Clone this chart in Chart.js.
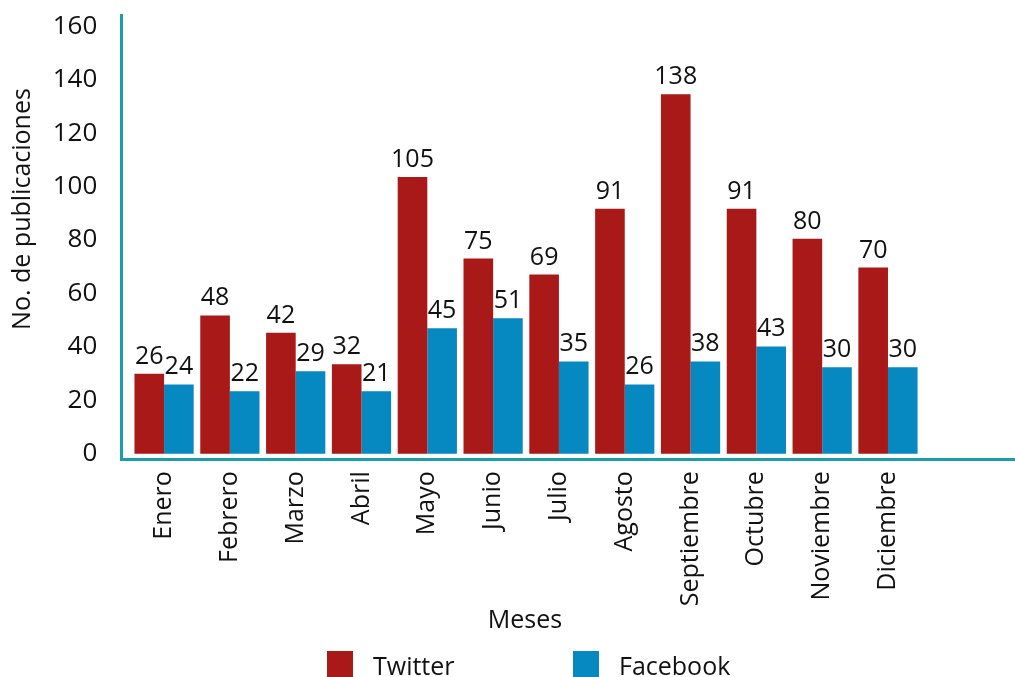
<!DOCTYPE html>
<html>
<head>
<meta charset="utf-8">
<script src="https://cdn.jsdelivr.net/npm/chart.js@4.4.1/dist/chart.umd.min.js"></script>
<style>
  html,body{margin:0;padding:0;background:#fff}
  #wrap{width:1015px;height:677px;position:relative}
</style>
</head>
<body>
<div id="wrap"><canvas id="chart"></canvas></div>
<script>
const MONTHS = ['Enero','Febrero','Marzo','Abril','Mayo','Junio','Julio','Agosto','Septiembre','Octubre','Noviembre','Diciembre'];
// printed numbers above the bars
const TWITTER_LABEL = [26,48,42,32,105,75,69,91,138,91,80,70];
const FACEBOOK_LABEL = [24,22,29,21,45,51,35,26,38,43,30,30];
// bar heights (the drawing does not follow its own labels exactly)
const TWITTER_BAR = [30,51.8,45.3,33.5,103.6,73.1,67.1,91.7,134.6,91.7,80.5,69.7];
const FACEBOOK_BAR = [26,23.4,30.9,23.4,47,50.7,34.6,26,34.6,40.2,32.4,32.4];
const Y_TICKS = [0,20,40,60,80,100,120,140,160];

const FONT = '"Open Sans", "Noto Sans", sans-serif';
const INK = '#111';
const TEAL = '#1a9eac';
const RED = '#a91917';
const BLUE = '#0688c1';

const labelPlugin = {
  id:'extras',
  afterDatasetsDraw(chart){
    const ctx = chart.ctx;
    ctx.save();
    ctx.font = '25px ' + FONT;
    ctx.fillStyle = INK;
    ctx.textAlign = 'center';
    ctx.textBaseline = 'alphabetic';
    chart.data.datasets.forEach((ds,i)=>{
      chart.getDatasetMeta(i).data.forEach((bar,j)=>{
        ctx.fillText(String(ds.printed[j]), bar.x, bar.y - 10);
      });
    });
    ctx.restore();
  },
  afterDraw(chart){
    const ctx = chart.ctx;
    ctx.save();
    ctx.font = '25px ' + FONT;
    ctx.fillStyle = INK;
    // y title
    ctx.save();
    ctx.translate(30, 209);
    ctx.rotate(-Math.PI/2);
    ctx.textAlign = 'center';
    ctx.textBaseline = 'alphabetic';
    ctx.fillText('No. de publicaciones', 0, 0);
    ctx.restore();
    // x title
    ctx.textAlign = 'center';
    ctx.fillText('Meses', 525, 628);
    // legend
    const items = [{x:327, tx:373}, {x:573, tx:619}];
    chart.data.datasets.forEach((ds,i)=>{
      ctx.fillStyle = ds.backgroundColor;
      ctx.fillRect(items[i].x, 651, 26, 26);
      ctx.fillStyle = INK;
      ctx.textAlign = 'left';
      ctx.fillText(ds.label, items[i].tx, 675);
    });
    ctx.restore();
  }
};

new Chart(document.getElementById('chart'), {
  type:'bar',
  data:{
    datasets:[
      {label:'Twitter', data:TWITTER_BAR.map((v,i)=>({x:i+1,y:v})), printed:TWITTER_LABEL, backgroundColor:RED},
      {label:'Facebook', data:FACEBOOK_BAR.map((v,i)=>({x:i+1,y:v})), printed:FACEBOOK_LABEL, backgroundColor:BLUE},
    ]
  },
  options:{
    responsive:true, maintainAspectRatio:false, animation:false,
    categoryPercentage:0.9, barPercentage:1,
    layout:{padding:{top:14.3,left:0,right:0,bottom:0}},
    plugins:{legend:{display:false}, tooltip:{enabled:false}},
    scales:{
      x:{
        type:'linear', offset:false, min:0.35, max:13.93,
        grid:{display:false, drawTicks:true, tickLength:12},
        border:{display:true, color:TEAL, width:3},
        afterBuildTicks(s){ s.ticks = MONTHS.map((m,i)=>({value:i+1})); },
        afterFit(s){ s.height = 677 - 459.2; },
        ticks:{autoSkip:false, minRotation:90, maxRotation:90, padding:0, color:INK, font:{family:FONT,size:25},
          callback:(v)=>MONTHS[Math.round(v)-1] || ''}
      },
      y:{
        min:-2, max:164,
        grid:{display:false, drawTicks:true, tickLength:24},
        border:{display:true, color:TEAL, width:3},
        afterBuildTicks(s){ s.ticks = Y_TICKS.map(v=>({value:v})); },
        afterFit(s){ s.width = 121.3; },
        ticks:{padding:0, color:INK, font:{family:FONT,size:26}}
      }
    }
  },
  plugins:[labelPlugin]
});
</script>
</body>
</html>
